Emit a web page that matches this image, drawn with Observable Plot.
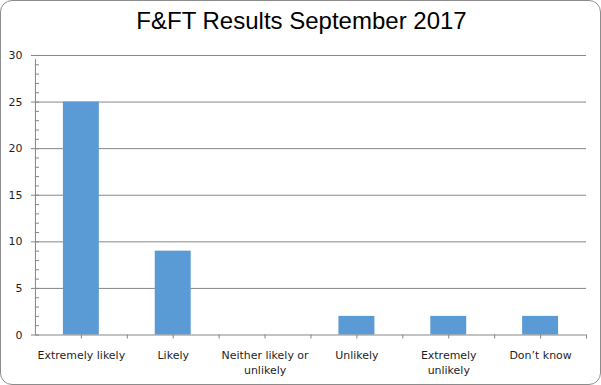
<!DOCTYPE html>
<html>
<head>
<meta charset="utf-8">
<script src="https://cdn.jsdelivr.net/npm/d3@7"></script>
<script src="https://cdn.jsdelivr.net/npm/@observablehq/plot@0.6"></script>
<style>
  body { margin: 0; background: #fff; }
  #wrap { position: relative; width: 601px; height: 385px; box-sizing: border-box; border: 1px solid #8c8c8c; border-radius: 12px; background: #fff; overflow: hidden; }
  #title { position: absolute; top: 6px; left: 0; width: 601px; text-align: center; font-family: "Liberation Sans", Arial, sans-serif; font-size: 24px; color: #000; }
  #chart { position: absolute; top: 40px; left: -1px; }
</style>
</head>
<body>
<div id="wrap">
  <div id="title">F&amp;FT Results September 2017</div>
  <div id="chart"></div>
</div>
<script>
const categories = ["Extremely likely", "Likely", "Neither likely or unlikely", "Unlikely", "Extremely unlikely", "Don\u2019t know"];
const tickLabels = ["Extremely likely", "Likely", "Neither likely or\nunlikely", "Unlikely", "Extremely\nunlikely", "Don\u2019t know"];
const values = [25, 9, 0, 2, 2, 2];
const yTicks = [0, 5, 10, 15, 20, 25, 30];

const data = categories.map((c, i) => ({category: c, value: values[i]}));
const W = 601, H = 345, mL = 35, mR = 14, mT = 14, mB = 51;
const step = (W - mL - mR) / categories.length;
const grey = "#868686";
const font = "'DejaVu Sans', Verdana, sans-serif";

const plot = Plot.plot({
  width: W, height: H,
  marginLeft: mL, marginRight: mR, marginTop: mT, marginBottom: mB,
  style: {fontFamily: font, fontSize: "11px", color: "#1e1e1e", background: "transparent"},
  x: {domain: categories, paddingInner: 0.61, paddingOuter: 0.305, label: null, axis: null},
  y: {domain: [0, 30], label: null, axis: null},
  marks: [
    Plot.gridY(yTicks.filter(d => d > 0), {stroke: grey, strokeOpacity: 1}),
    Plot.barY(data, {x: "category", y: "value", fill: "#5b9bd5"}),
    Plot.ruleY([0], {stroke: grey}),
    Plot.ruleX([categories[0]], {dx: -step / 2, y1: 0, y2: 30, insetBottom: -4, stroke: grey}),
    Plot.axisY({ticks: d3.range(0, 31), tickSize: 4, dx: 4, tickFormat: () => "", stroke: grey, label: null}),
    Plot.axisY({ticks: yTicks, tickSize: 4, tickPadding: 9, stroke: grey, fontSize: 11, label: null}),
    Plot.axisX({tickSize: 4, tickPadding: 10, stroke: grey, label: null, fontSize: 11, lineHeight: 1.35, tickFormat: (d) => tickLabels[categories.indexOf(d)]}),
    Plot.axisX({tickSize: 4, dx: step / 2, stroke: grey, label: null, tickFormat: () => ""})
  ]
});
document.getElementById("chart").appendChild(plot);
</script>
</body>
</html>
